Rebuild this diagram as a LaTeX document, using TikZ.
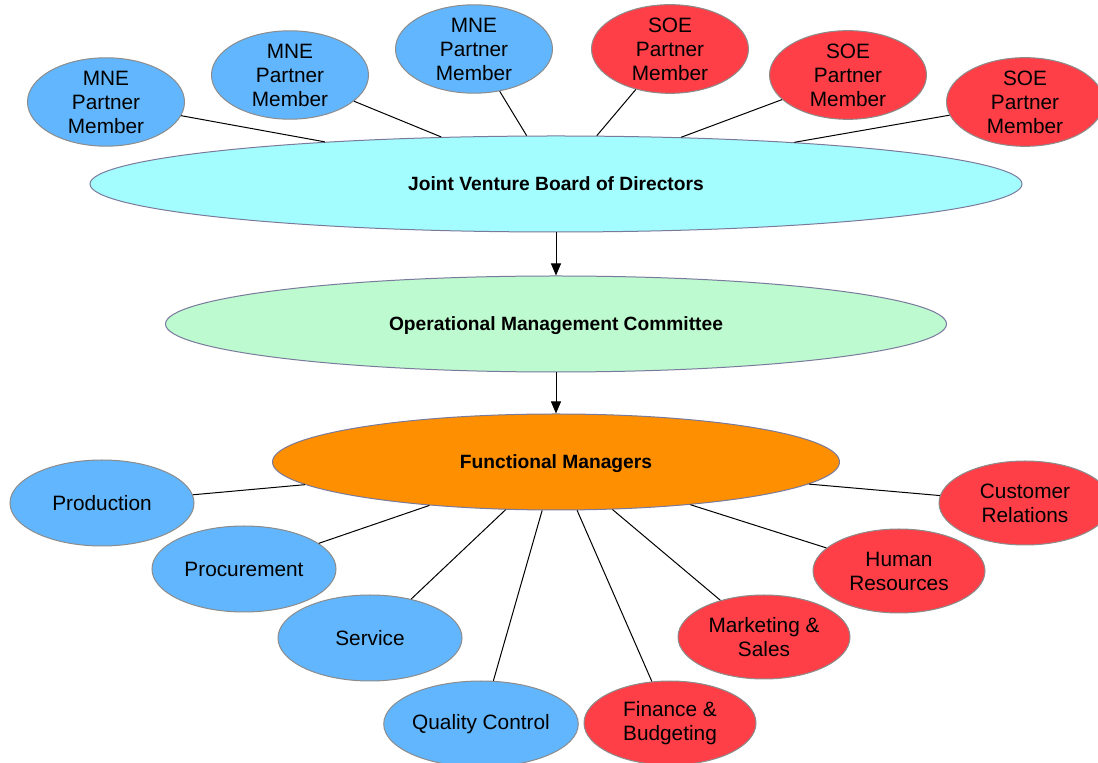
\documentclass[tikz,border=0pt]{standalone}
\usepackage{fontspec}
\setmainfont{Liberation Sans}
\usetikzlibrary{shapes.geometric,arrows.meta}
\definecolor{mneblue}{HTML}{62B6FE}
\definecolor{soered}{HTML}{FE3F47}
\definecolor{boardcyan}{HTML}{A3FCFE}
\definecolor{omcgreen}{HTML}{BDFACF}
\definecolor{fmorange}{HTML}{FD8F00}
\definecolor{rimgray}{HTML}{8C8C8C}
\definecolor{rimviolet}{HTML}{7A7A9C}
\begin{document}
\begin{tikzpicture}[x=0.5pt, y=-0.5pt,
		member/.style={ellipse, draw=rimgray, line width=0.5pt, inner sep=0pt, align=center, font=\fontsize{10.4}{12}\selectfont},
		mne/.style={member, fill=mneblue, minimum width=78.5pt, minimum height=43pt},
		soe/.style={member, fill=soered, minimum width=78.5pt, minimum height=43pt},
		bluefn/.style={member, fill=mneblue, minimum width=92pt, minimum height=43pt},
		redfn/.style={member, fill=soered, minimum width=86pt, minimum height=42pt},
		level/.style={ellipse, draw=rimviolet, line width=0.5pt, inner sep=0pt, minimum height=48pt, text height=6.9pt, text depth=0pt, font=\fontsize{9.6}{11}\selectfont\bfseries},
		link/.style={draw=black, line width=0.5pt},
		down/.style={-{Triangle[length=6pt,width=5pt]}, line width=0.5pt}]
		\useasboundingbox (0,0) rectangle (1098,763);
		
		%--- the three levels
		\node[level, fill=boardcyan, minimum width=466pt] (board) at (556,184) {Joint Venture Board of Directors};
		\node[level, fill=omcgreen, minimum width=390.5pt] (omc) at (556,324) {Operational Management Committee};
		\node[level, fill=fmorange, minimum width=283.5pt] (fm) at (556,462) {Functional Managers};
		
		\draw[down] (board) -- (omc);
		\draw[down] (omc) -- (fm);
		
		%--- partner members on the board
		\node[mne] (mneA) at (106,102) {MNE\\ Partner\\ Member};
		\node[mne] (mneB) at (290,75) {MNE\\ Partner\\ Member};
		\node[mne] (mneC) at (474,49) {MNE\\ Partner\\ Member};
		\node[soe] (soeA) at (670,49) {SOE\\ Partner\\ Member};
		\node[soe] (soeB) at (848,75) {SOE\\ Partner\\ Member};
		\node[soe] (soeC) at (1025,102) {SOE\\ Partner\\ Member};
		
		\draw[link] (mneA) -- (board);
		\draw[link] (mneB) -- (board);
		\draw[link] (mneC) -- (board);
		\draw[link] (soeA) -- (board);
		\draw[link] (soeB) -- (board);
		\draw[link] (soeC) -- (board);
		
		%--- functions
		\node[bluefn] (prod) at (102,503) {Production};
		\node[bluefn] (proc) at (244,569) {Procurement};
		\node[bluefn] (serv) at (370,638) {Service};
		\node[bluefn] (qual) at (481,724) {Quality Control};
		\node[redfn] (fin) at (670,723) {Finance \&\\ Budgeting};
		\node[redfn] (mkt) at (764,637) {Marketing \&\\ Sales};
		\node[redfn] (hr) at (899,571) {Human\\ Resources};
		\node[redfn] (cust) at (1025,503) {Customer\\ Relations};
		
		\draw[link] (prod) -- (fm);
		\draw[link] (proc) -- (fm);
		\draw[link] (serv) -- (fm);
		\draw[link] (qual) -- (fm);
		\draw[link] (fin) -- (fm);
		\draw[link] (mkt) -- (fm);
		\draw[link] (hr) -- (fm);
		\draw[link] (cust) -- (fm);
	\end{tikzpicture}
\end{document}
